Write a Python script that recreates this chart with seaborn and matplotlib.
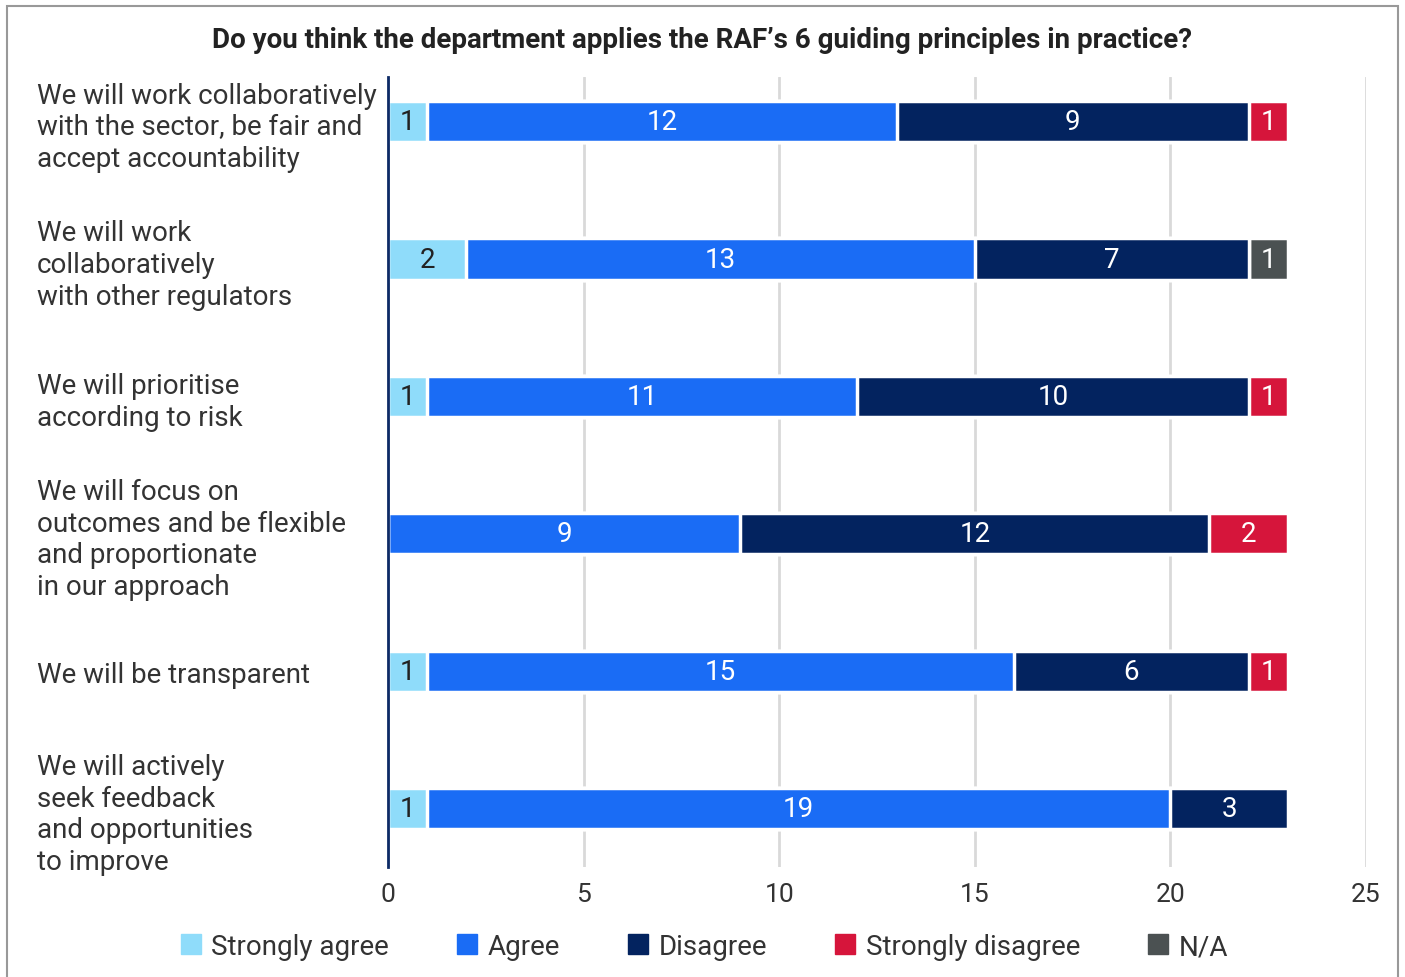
import matplotlib
matplotlib.use("Agg")
import matplotlib.pyplot as plt
from matplotlib.lines import Line2D
from matplotlib.patches import Rectangle
import numpy as np
import pandas as pd
import seaborn as sns

# data
principles = [
    "We will work collaboratively\nwith the sector, be fair and\naccept accountability",
    "We will work\ncollaboratively\nwith other regulators",
    "We will prioritise\naccording to risk",
    "We will focus on\noutcomes and be flexible\nand proportionate\nin our approach",
    "We will be transparent",
    "We will actively\nseek feedback\nand opportunities\nto improve",
]
strongly_agree = [1, 2, 1, 0, 1, 1]
agree = [12, 13, 11, 9, 15, 19]
disagree = [9, 7, 10, 12, 6, 3]
strongly_disagree = [1, 0, 1, 2, 1, 0]
not_applicable = [0, 1, 0, 0, 0, 0]

series_names = ["Strongly agree", "Agree", "Disagree", "Strongly disagree", "N/A"]
series_values = [strongly_agree, agree, disagree, strongly_disagree, not_applicable]
series_colors = ["#8fdcfa", "#1a6cf5", "#03235f", "#d6153b", "#4b5152"]
text_colors = ["#222222", "white", "white", "white", "white"]

sns.set_theme(style="white")
plt.rcParams["font.family"] = ["Roboto", "DejaVu Sans"]

fig = plt.figure(figsize=(14.05, 9.78), dpi=100)
ax = fig.add_axes([0.2762, 0.1125, 0.6960, 0.8077])

# cumulative totals, drawn longest first so the shorter ones sit on top
vals = np.array(series_values)
cum = vals.cumsum(axis=0)
for i in range(len(series_names) - 1, -1, -1):
    df = pd.DataFrame({"principle": principles, "value": cum[i]})
    sns.barplot(data=df, x="value", y="principle", orient="h", color=series_colors[i],
                width=0.3, edgecolor="white", linewidth=2.5, saturation=1, ax=ax)

# numbers inside the segments
for i in range(len(series_names)):
    for row in range(len(principles)):
        v = vals[i][row]
        if v > 0:
            ax.text(cum[i][row] - v / 2, row, str(v), ha="center", va="center",
                    fontsize=20, color=text_colors[i])

ax.set_xlim(0, 25)
ax.set_ylim(len(principles) - 1 + 0.425, -0.325)
ax.set_xticks(range(0, 26, 5))
ax.set_xlabel("")
ax.set_ylabel("")
ax.set_axisbelow(True)
ax.grid(axis="x", color="#d9d9d9", linewidth=2)
ax.grid(axis="y", visible=False)
for s in ["top", "right", "bottom"]:
    ax.spines[s].set_visible(False)
ax.spines["left"].set_color("#0d2a66")
ax.spines["left"].set_linewidth(2)
ax.spines["left"].set_zorder(5)

ax.tick_params(axis="x", length=0, pad=11, labelsize=19, labelcolor="#333333")
ax.tick_params(axis="y", length=0, pad=253, labelsize=20, labelcolor="#333333")
for lab in ax.get_yticklabels():
    lab.set_horizontalalignment("left")
    lab.set_linespacing(1.22)

fig.text(0.5, 0.959, "Do you think the department applies the RAF\u2019s 6 guiding principles in practice?",
         ha="center", va="center", fontsize=20, fontweight="bold", color="#222222")

handles = [Line2D([0], [0], marker="s", linestyle="", markersize=14,
                  markerfacecolor=c, markeredgecolor=c) for c in series_colors]
fig.legend(handles, series_names, loc="center", bbox_to_anchor=(0.5, 0.031), ncol=5,
           frameon=False, fontsize=20, handlelength=1, handletextpad=0.25,
           columnspacing=2.3, labelcolor="#333333")

fig.patches.append(Rectangle((0.005, -0.05), 0.99, 1.043, transform=fig.transFigure,
                             fill=False, edgecolor="#999999", linewidth=1.5))

fig.savefig("out.png", dpi=100)
